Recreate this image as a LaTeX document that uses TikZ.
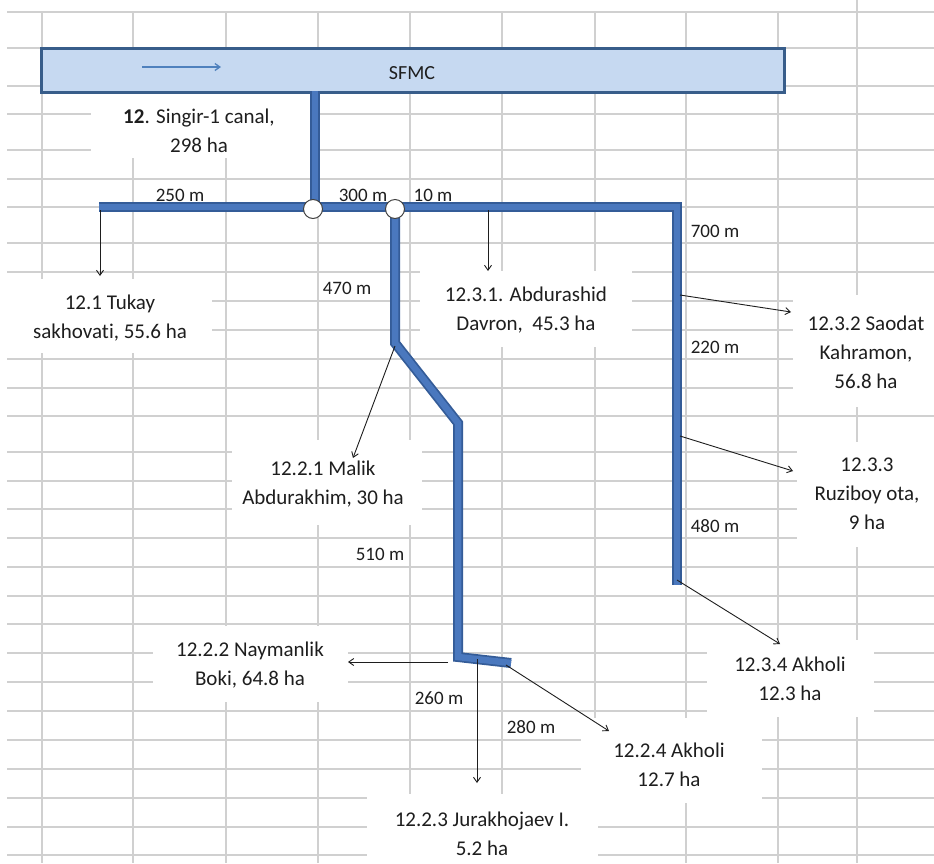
\documentclass[tikz,border=0pt]{standalone}
\usepackage{fontspec}
\setmainfont{Carlito}[Ligatures=NoCommon]
\usetikzlibrary{arrows.meta}
\definecolor{gridc}{HTML}{D0D0D0}
\definecolor{boxfill}{HTML}{C6D9F1}
\definecolor{boxline}{HTML}{385D8A}
\definecolor{pipeout}{HTML}{345C98}
\definecolor{pipein}{HTML}{4A78BE}
\definecolor{arrowblue}{HTML}{4F81BD}
\definecolor{txt}{HTML}{1E1E1E}
\begin{document}
\begin{tikzpicture}[x=1pt,y=-1pt,
  gridline/.style={gridc,line width=1.1pt},
  mask/.style={fill=white,draw=none},
  pipeo/.style={pipeout,line width=10pt,line join=miter},
  pipei/.style={pipein,line width=6.5pt,line join=miter},
  lead/.style={txt,line width=0.9pt,-{Straight Barb[length=5pt,width=7pt]}},
  lbl/.style={font=\fontsize{21}{29}\selectfont,align=center,text=txt,inner sep=0pt},
  len/.style={font=\fontsize{19}{23}\selectfont,text=txt,inner sep=0pt},
  junction/.style={circle,draw=black!75,fill=white,line width=1pt,minimum size=19pt,inner sep=0pt}
]
\useasboundingbox[fill=white] (0,0) rectangle (934,863);
% spreadsheet grid
\foreach \y in {12,48,86,114,150,179,207,243,272,301,330,359,388,416,452,481,509,538,567,596,624,653,682,711,740,769,798,827,855}
  \draw[gridline] (7,\y) -- (934,\y);
\foreach \x in {42,133,226,318,410,502,595,686,778}
  \draw[gridline] (\x,12) -- (\x,863);
\draw[gridline] (857,0) -- (857,863);
% white text boxes hiding the grid
\fill[mask] (91,92) rectangle (311,158);
\fill[mask] (0,279) rectangle (212,353);
\fill[mask] (420,271) rectangle (632,347);
\fill[mask] (793,295) rectangle (934,407);
\fill[mask] (797,442) rectangle (934,547);
\fill[mask] (707,640) rectangle (874,717);
\fill[mask] (581,718) rectangle (762,803);
\fill[mask] (367,794) rectangle (598,863);
\fill[mask] (153,626) rectangle (348,702);
\fill[mask] (232,440) rectangle (422,525);
% main canal box
\node[draw=boxline,fill=boxfill,line width=3pt,minimum width=743pt,minimum height=44pt,inner sep=0pt,anchor=north west] (sfmc) at (40,47) {};
\node[font=\fontsize{20}{24}\selectfont,text=txt] (sfmct) at (412,73) {SFMC};
\coordinate (fa) at (142,67);
\coordinate (fb) at (221,67);
\draw[arrowblue,line width=1.3pt,-{Straight Barb[length=5pt,width=7pt]}] (fa) -- (fb);
% pipe points
\coordinate (s0) at (315,91);
\coordinate (s1) at (315,207);
\coordinate (w0) at (99,207);
\coordinate (e0) at (677,207);
\coordinate (e1) at (677,585);
\coordinate (m0) at (395,209);
\coordinate (m1) at (395,343);
\coordinate (m2) at (458,423);
\coordinate (m3) at (458,657);
\coordinate (m4) at (511,663);
\draw[pipeo] (s0) -- (s1);
\draw[pipeo] (w0) -- (e0) -- (e1);
\draw[pipeo] (m0) -- (m1) -- (m2) -- (m3) -- (m4);
\draw[pipei] (s0) -- (s1);
\draw[pipei] (w0) -- (e0) -- (e1);
\draw[pipei] (m0) -- (m1) -- (m2) -- (m3) -- (m4);
% length labels
\node[len] (l250) at (180,195) {250 m};
\node[len] (l300) at (363,195) {300 m};
\node[len] (l10) at (433,195) {10 m};
\node[len] (l470) at (347,288) {470 m};
\node[len] (l700) at (715,231) {700 m};
\node[len] (l220) at (715,347) {220 m};
\node[len] (l480) at (715,526) {480 m};
\node[len] (l510) at (380,554) {510 m};
\node[len] (l260) at (439,698) {260 m};
\node[len] (l280) at (531,727) {280 m};
% junctions
\node[junction] (j1) at (313,209) {};
\node[junction] (j2) at (395,209) {};
% farm labels
\node[lbl] (singir) at (199,131) {\textbf{12}. Singir-1 canal,\\298 ha};
\node[lbl] (tukay) at (110,318) {12.1 Tukay\\sakhovati, 55.6 ha};
\node[lbl] (abdu) at (526,310) {12.3.1. Abdurashid\\Davron,~ 45.3 ha};
\node[lbl] (saodat) at (866,352) {12.3.2 Saodat\\Kahramon,\\56.8 ha};
\node[lbl] (ruzi) at (867,494) {12.3.3\\Ruziboy ota,\\9 ha};
\node[lbl] (malik) at (323,484) {12.2.1 Malik\\Abdurakhim, 30 ha};
\node[lbl] (nayman) at (250,665) {12.2.2 Naymanlik\\Boki, 64.8 ha};
\node[lbl] (jura) at (482,834) {12.2.3 Jurakhojaev I.\\5.2 ha};
\node[lbl] (akh4) at (669,765) {12.2.4 Akholi\\12.7 ha};
\node[lbl] (akh34) at (790,679) {12.3.4 Akholi\\12.3 ha};
% offtake arrows
\coordinate (a1) at (100,210); \coordinate (b1) at (100,276);
\coordinate (a2) at (488,210); \coordinate (b2) at (488,271);
\coordinate (a3) at (395,346); \coordinate (b3) at (353,458);
\coordinate (a4) at (680,295); \coordinate (b4) at (791,312);
\coordinate (a5) at (680,436); \coordinate (b5) at (793,471);
\coordinate (a6) at (677,580); \coordinate (b6) at (780,644);
\coordinate (a7) at (448,662); \coordinate (b7) at (348,662);
\coordinate (a8) at (477,659); \coordinate (b8) at (477,783);
\coordinate (a9) at (506,665); \coordinate (b9) at (609,731);
\draw[lead] (a1) -- (b1);
\draw[lead] (a2) -- (b2);
\draw[lead] (a3) -- (b3);
\draw[lead] (a4) -- (b4);
\draw[lead] (a5) -- (b5);
\draw[lead] (a6) -- (b6);
\draw[lead] (a7) -- (b7);
\draw[lead] (a8) -- (b8);
\draw[lead] (a9) -- (b9);
\end{tikzpicture}
\end{document}
